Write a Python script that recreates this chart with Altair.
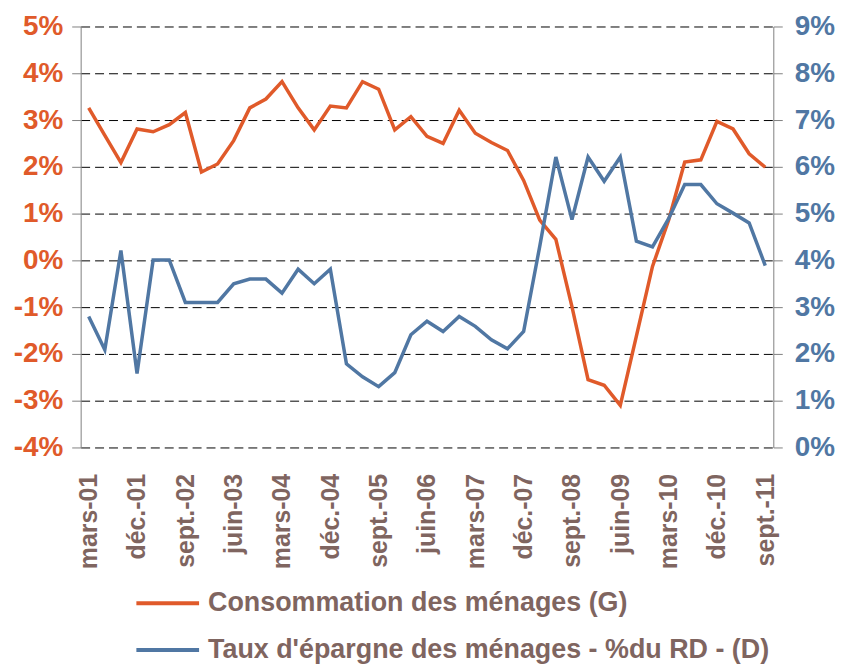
import altair as alt
import pandas as pd

months = ["mars", "juin", "sept.", "déc."]
quarters = [f"{m}-{y:02d}" for y in range(1, 12) for m in months][:43]

conso = [3.26, 2.67, 2.09, 2.81, 2.75, 2.90, 3.16, 1.89, 2.06, 2.56, 3.26, 3.45,
         3.82, 3.26, 2.79, 3.30, 3.26, 3.82, 3.66, 2.79, 3.07, 2.65, 2.50, 3.21,
         2.72, 2.52, 2.35, 1.71, 0.86, 0.45, -0.99, -2.55, -2.67, -3.10, -1.62,
         -0.13, 0.86, 2.10, 2.15, 2.97, 2.81, 2.28, 1.99]
epargne = [2.80, 2.09, 4.21, 1.58, 4.01, 4.01, 3.10, 3.10, 3.10, 3.50, 3.60, 3.60,
           3.30, 3.81, 3.50, 3.81, 1.79, 1.51, 1.30, 1.60, 2.41, 2.70, 2.48, 2.80,
           2.59, 2.30, 2.11, 2.48, 4.30, 6.21, 4.87, 6.21, 5.69, 6.21, 4.41, 4.29,
           4.89, 5.62, 5.62, 5.21, 5.01, 4.80, 3.89]

tick_labels = quarters[::3]
left_ticks = [-4, -3, -2, -1, 0, 1, 2, 3, 4, 5]
right_ticks = [0, 1, 2, 3, 4, 5, 6, 7, 8, 9]

s1 = "Consommation des ménages (G)"
s2 = "Taux d'épargne des ménages - %du RD - (D)"
ORANGE = "#E05A2A"
BLUE = "#5077A3"
TEXT = "#7F6560"

df = pd.DataFrame({
    "quarter": quarters * 2,
    "series": [s1] * len(quarters) + [s2] * len(quarters),
    "value": conso + epargne,
})

x_enc = alt.X("quarter:O", sort=quarters,
              scale=alt.Scale(type="point", padding=0.5),
              axis=alt.Axis(values=tick_labels, labelAngle=-90, labelAlign="right",
                            labelBaseline="middle", labelFont="Liberation Sans",
                            labelFontSize=25, labelFontWeight="bold", labelColor=TEXT,
                            labelPadding=26, ticks=False, domain=False, grid=False,
                            title=None))

color_enc = alt.Color("series:N",
                      scale=alt.Scale(domain=[s1, s2], range=[ORANGE, BLUE]),
                      legend=alt.Legend(orient="none", legendX=54, legendY=546,
                                        title=None, symbolType="stroke",
                                        symbolSize=3969, symbolStrokeWidth=4,
                                        labelFont="Liberation Sans", labelFontSize=27,
                                        labelFontWeight="bold", labelColor=TEXT,
                                        labelOffset=7, labelLimit=1000, rowPadding=-15))

base = alt.Chart(df)

left = base.transform_filter(alt.datum.series == s1).mark_line(strokeWidth=3.5).encode(
    x=x_enc,
    y=alt.Y("value:Q", scale=alt.Scale(domain=[-4, 5], nice=False, zero=False),
            axis=alt.Axis(values=left_ticks, labelExpr="datum.value + '%'",
                          orient="left", grid=True, gridColor="black",
                          gridDash=[9, 5], gridWidth=1, domainColor="#808080",
                          tickColor="#808080", tickSize=9, labelFont="Liberation Sans",
                          labelFontSize=28, labelFontWeight="bold", labelColor=ORANGE,
                          labelPadding=9, title=None)),
    color=color_enc,
)

right = base.transform_filter(alt.datum.series == s2).mark_line(strokeWidth=3.5).encode(
    x=x_enc,
    y=alt.Y("value:Q", scale=alt.Scale(domain=[0, 9], nice=False, zero=False),
            axis=alt.Axis(values=right_ticks, labelExpr="datum.value + '%'",
                          orient="right", grid=False, domainColor="#808080",
                          tickColor="#808080", tickSize=9, labelFont="Liberation Sans",
                          labelFontSize=28, labelFontWeight="bold", labelColor=BLUE,
                          labelPadding=12, title=None)),
    color=color_enc,
)

chart = alt.layer(left, right).resolve_scale(y="independent").properties(
    width=696, height=423,
    padding={"left": 73, "top": 17, "right": 64, "bottom": 216},
    autosize=alt.AutoSizeParams(type="none"),
).configure_view(stroke=None)

chart.save("out.html", embed_options={"renderer": "svg", "actions": False})
